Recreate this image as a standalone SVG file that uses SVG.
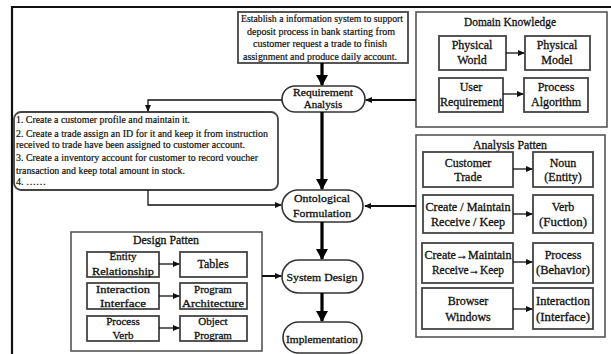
<svg xmlns="http://www.w3.org/2000/svg" width="611" height="354" viewBox="0 0 611 354">
  <style>
    text { font-family: "Liberation Serif", "DejaVu Serif", "Times New Roman", Times, serif; fill: #111; stroke: #111; stroke-width: 0.3; text-anchor: middle; }
    .t12 { font-size: 12px; }
    .t11 { font-size: 11px; }
    .t10 { font-size: 10px; stroke-width: 0.2; }
    .note { font-size: 10px; text-anchor: start; stroke-width: 0.2; }
    .title { font-size: 12px; }
    .frame { fill: none; stroke: #111; stroke-width: 2.2; }
    .group { fill: #fff; stroke: #555; stroke-width: 1.6; }
    .box { fill: #fff; stroke: #444; stroke-width: 1.8; }
    .pill { fill: #fff; stroke: #333; stroke-width: 1.6; }
    .thin { fill: none; stroke: #111; stroke-width: 1.3; }
    .mid { fill: none; stroke: #111; stroke-width: 2; }
    .thick { fill: none; stroke: #000; stroke-width: 3.2; }
  </style>
  <defs>
    <marker id="small" markerUnits="userSpaceOnUse" markerWidth="7" markerHeight="6" refX="6" refY="3" orient="auto">
      <path d="M0,0 L7,3 L0,6 Z" fill="#111"/>
    </marker>
    <marker id="big" markerUnits="userSpaceOnUse" markerWidth="12" markerHeight="12" refX="10" refY="6" orient="auto">
      <path d="M0,0 L11,6 L0,12 Z" fill="#000"/>
    </marker>
  </defs>

  <rect width="611" height="354" fill="#fff"/>

  <!-- outer frame (top and left edges) -->
  <path class="frame" d="M12,360 L12,7 L615,7"/>

  <!-- goal statement -->
  <g id="goal">
    <rect class="box" x="238" y="12" width="170" height="51"/>
    <text class="t10" x="322" y="22" textLength="162" lengthAdjust="spacingAndGlyphs">Establish a information system to support</text>
    <text class="t10" x="321" y="35" textLength="148" lengthAdjust="spacingAndGlyphs">deposit process in bank starting from</text>
    <text class="t10" x="320" y="47" textLength="134" lengthAdjust="spacingAndGlyphs">customer request a trade to finish</text>
    <text class="t10" x="320" y="60" textLength="154" lengthAdjust="spacingAndGlyphs">assignment and produce daily account.</text>
  </g>

  <!-- main flow -->
  <g id="requirement-analysis">
    <rect class="pill" x="282" y="86" width="83" height="26" rx="13"/>
    <text class="t11" x="323" y="96" textLength="60" lengthAdjust="spacingAndGlyphs">Requirement</text>
    <text class="t11" x="323" y="108">Analysis</text>
  </g>
  <g id="ontological-formulation">
    <rect class="pill" x="282" y="190" width="81" height="32" rx="16"/>
    <text class="t11" x="322" y="202" textLength="56" lengthAdjust="spacingAndGlyphs">Ontological</text>
    <text class="t11" x="322" y="217" textLength="58" lengthAdjust="spacingAndGlyphs">Formulation</text>
  </g>
  <g id="system-design">
    <rect class="pill" x="282" y="260" width="81" height="33" rx="16.5"/>
    <text class="t11" x="322" y="281" textLength="71" lengthAdjust="spacingAndGlyphs">System Design</text>
  </g>
  <g id="implementation">
    <rect class="pill" x="283" y="322" width="79" height="31" rx="15.5"/>
    <text class="t11" x="322" y="343" textLength="72" lengthAdjust="spacingAndGlyphs">Implementation</text>
  </g>

  <!-- requirement list -->
  <g id="requirement-list">
    <rect class="box" x="14" y="112" width="264" height="78" rx="7"/>
    <text class="note" x="16" y="123" textLength="174" lengthAdjust="spacingAndGlyphs">1. Create a customer profile and maintain it.</text>
    <text class="note" x="16" y="137" textLength="252" lengthAdjust="spacingAndGlyphs">2. Create a trade assign an ID for it and keep it from instruction</text>
    <text class="note" x="16" y="148" textLength="229" lengthAdjust="spacingAndGlyphs">received to trade have been assigned to customer account.</text>
    <text class="note" x="16" y="161" textLength="242" lengthAdjust="spacingAndGlyphs">3. Create a inventory account for customer to record voucher</text>
    <text class="note" x="16" y="174" textLength="169" lengthAdjust="spacingAndGlyphs">transaction and keep total amount in stock.</text>
    <text class="note" x="16" y="185">4. ……</text>
  </g>

  <!-- domain knowledge -->
  <g id="domain-knowledge">
    <rect class="group" x="416" y="12" width="191" height="115"/>
    <text class="title" x="510" y="26" textLength="92" lengthAdjust="spacingAndGlyphs">Domain Knowledge</text>
    <g id="physical-world">
      <rect class="box" x="439" y="36" width="67" height="34"/>
      <text class="t12" x="472" y="49">Physical</text>
      <text class="t12" x="472" y="64">World</text>
    </g>
    <g id="physical-model">
      <rect class="box" x="525" y="36" width="65" height="34"/>
      <text class="t12" x="557" y="49">Physical</text>
      <text class="t12" x="557" y="64">Model</text>
    </g>
    <g id="user-requirement">
      <rect class="box" x="439" y="78" width="64" height="34"/>
      <text class="t12" x="471" y="91">User</text>
      <text class="t12" x="471" y="106" textLength="62" lengthAdjust="spacingAndGlyphs">Requirement</text>
    </g>
    <g id="process-algorithm">
      <rect class="box" x="524" y="78" width="64" height="34"/>
      <text class="t12" x="556" y="91">Process</text>
      <text class="t12" x="556" y="106">Algorithm</text>
    </g>
  </g>

  <!-- analysis pattern -->
  <g id="analysis-pattern">
    <rect class="group" x="416" y="135" width="189" height="202"/>
    <text class="title" x="510" y="149" textLength="74" lengthAdjust="spacingAndGlyphs">Analysis Patten</text>
    <g id="customer-trade">
      <rect class="box" x="423" y="152" width="90" height="35"/>
      <text class="t12" x="468" y="167">Customer</text>
      <text class="t12" x="468" y="181">Trade</text>
    </g>
    <g id="noun">
      <rect class="box" x="533" y="152" width="60" height="35"/>
      <text class="t12" x="563" y="167">Noun</text>
      <text class="t12" x="563" y="181">(Entity)</text>
    </g>
    <g id="create-maintain">
      <rect class="box" x="423" y="195" width="90" height="38"/>
      <text class="t12" x="468" y="211" textLength="85" lengthAdjust="spacingAndGlyphs">Create / Maintain</text>
      <text class="t12" x="468" y="226" textLength="74" lengthAdjust="spacingAndGlyphs">Receive / Keep</text>
    </g>
    <g id="verb">
      <rect class="box" x="533" y="195" width="60" height="38"/>
      <text class="t12" x="563" y="211">Verb</text>
      <text class="t12" x="563" y="226" textLength="48" lengthAdjust="spacingAndGlyphs">(Fuction)</text>
    </g>
    <g id="create-to-maintain">
      <rect class="box" x="422" y="243" width="91" height="40"/>
      <text class="t12" x="468" y="259" textLength="87" lengthAdjust="spacingAndGlyphs">Create→Maintain</text>
      <text class="t12" x="468" y="274" textLength="72" lengthAdjust="spacingAndGlyphs">Receive→Keep</text>
    </g>
    <g id="process-behavior">
      <rect class="box" x="533" y="243" width="60" height="40"/>
      <text class="t12" x="563" y="259">Process</text>
      <text class="t12" x="563" y="274" textLength="54" lengthAdjust="spacingAndGlyphs">(Behavior)</text>
    </g>
    <g id="browser-windows">
      <rect class="box" x="422" y="288" width="91" height="41"/>
      <text class="t12" x="468" y="305">Browser</text>
      <text class="t12" x="468" y="321">Windows</text>
    </g>
    <g id="interaction-interface">
      <rect class="box" x="533" y="288" width="60" height="41"/>
      <text class="t12" x="563" y="305" textLength="54" lengthAdjust="spacingAndGlyphs">Interaction</text>
      <text class="t12" x="563" y="321" textLength="54" lengthAdjust="spacingAndGlyphs">(Interface)</text>
    </g>
  </g>

  <!-- design pattern -->
  <g id="design-pattern">
    <rect class="group" x="71" y="232" width="191" height="119"/>
    <text class="title" x="166" y="244" textLength="66" lengthAdjust="spacingAndGlyphs">Design Patten</text>
    <g id="entity-relationship">
      <rect class="box" x="87" y="252" width="72" height="25"/>
      <text class="t11" x="123" y="260">Entity</text>
      <text class="t11" x="123" y="275" textLength="62" lengthAdjust="spacingAndGlyphs">Relationship</text>
    </g>
    <g id="tables">
      <rect class="box" x="180" y="252" width="67" height="25"/>
      <text class="t12" x="213" y="268">Tables</text>
    </g>
    <g id="interaction-interface-dp">
      <rect class="box" x="87" y="283" width="72" height="26"/>
      <text class="t11" x="123" y="293" textLength="54" lengthAdjust="spacingAndGlyphs">Interaction</text>
      <text class="t11" x="123" y="307" textLength="46" lengthAdjust="spacingAndGlyphs">Interface</text>
    </g>
    <g id="program-architecture">
      <rect class="box" x="180" y="283" width="67" height="26"/>
      <text class="t11" x="213" y="293">Program</text>
      <text class="t11" x="213" y="307" textLength="62" lengthAdjust="spacingAndGlyphs">Architecture</text>
    </g>
    <g id="process-verb">
      <rect class="box" x="87" y="316" width="72" height="25"/>
      <text class="t11" x="123" y="325">Process</text>
      <text class="t11" x="123" y="339">Verb</text>
    </g>
    <g id="object-program">
      <rect class="box" x="180" y="316" width="67" height="25"/>
      <text class="t11" x="213" y="325">Object</text>
      <text class="t11" x="213" y="339">Program</text>
    </g>
  </g>

  <!-- connectors, drawn above the boxes -->
  <g id="connectors">
    <line class="thick" x1="322" y1="63" x2="322" y2="85" marker-end="url(#big)"/>
    <line class="thick" x1="322" y1="112" x2="322" y2="189" marker-end="url(#big)"/>
    <line class="thick" x1="322" y1="222" x2="322" y2="259" marker-end="url(#big)"/>
    <line class="thick" x1="322" y1="293" x2="322" y2="321" marker-end="url(#big)"/>
    <line class="mid" x1="416" y1="100" x2="366" y2="100" marker-end="url(#small)"/>
    <path class="thin" d="M282,100 L148,100 L148,111" marker-end="url(#small)"/>
    <path class="thin" d="M148,190 L148,205 L281,205" marker-end="url(#small)"/>
    <line class="mid" x1="416" y1="206" x2="365" y2="206" marker-end="url(#small)"/>
    <line class="mid" x1="262" y1="276" x2="281" y2="276" marker-end="url(#small)"/>
    <line class="thin" x1="506" y1="53" x2="524" y2="53" marker-end="url(#small)"/>
    <line class="thin" x1="503" y1="94" x2="523" y2="94" marker-end="url(#small)"/>
    <line class="thin" x1="513" y1="169" x2="532" y2="169" marker-end="url(#small)"/>
    <line class="thin" x1="513" y1="214" x2="532" y2="214" marker-end="url(#small)"/>
    <line class="thin" x1="513" y1="262" x2="532" y2="262" marker-end="url(#small)"/>
    <line class="thin" x1="513" y1="309" x2="532" y2="309" marker-end="url(#small)"/>
    <line class="thin" x1="159" y1="264" x2="179" y2="264" marker-end="url(#small)"/>
    <line class="thin" x1="159" y1="296" x2="179" y2="296" marker-end="url(#small)"/>
    <line class="thin" x1="159" y1="328" x2="179" y2="328" marker-end="url(#small)"/>
  </g>
</svg>
